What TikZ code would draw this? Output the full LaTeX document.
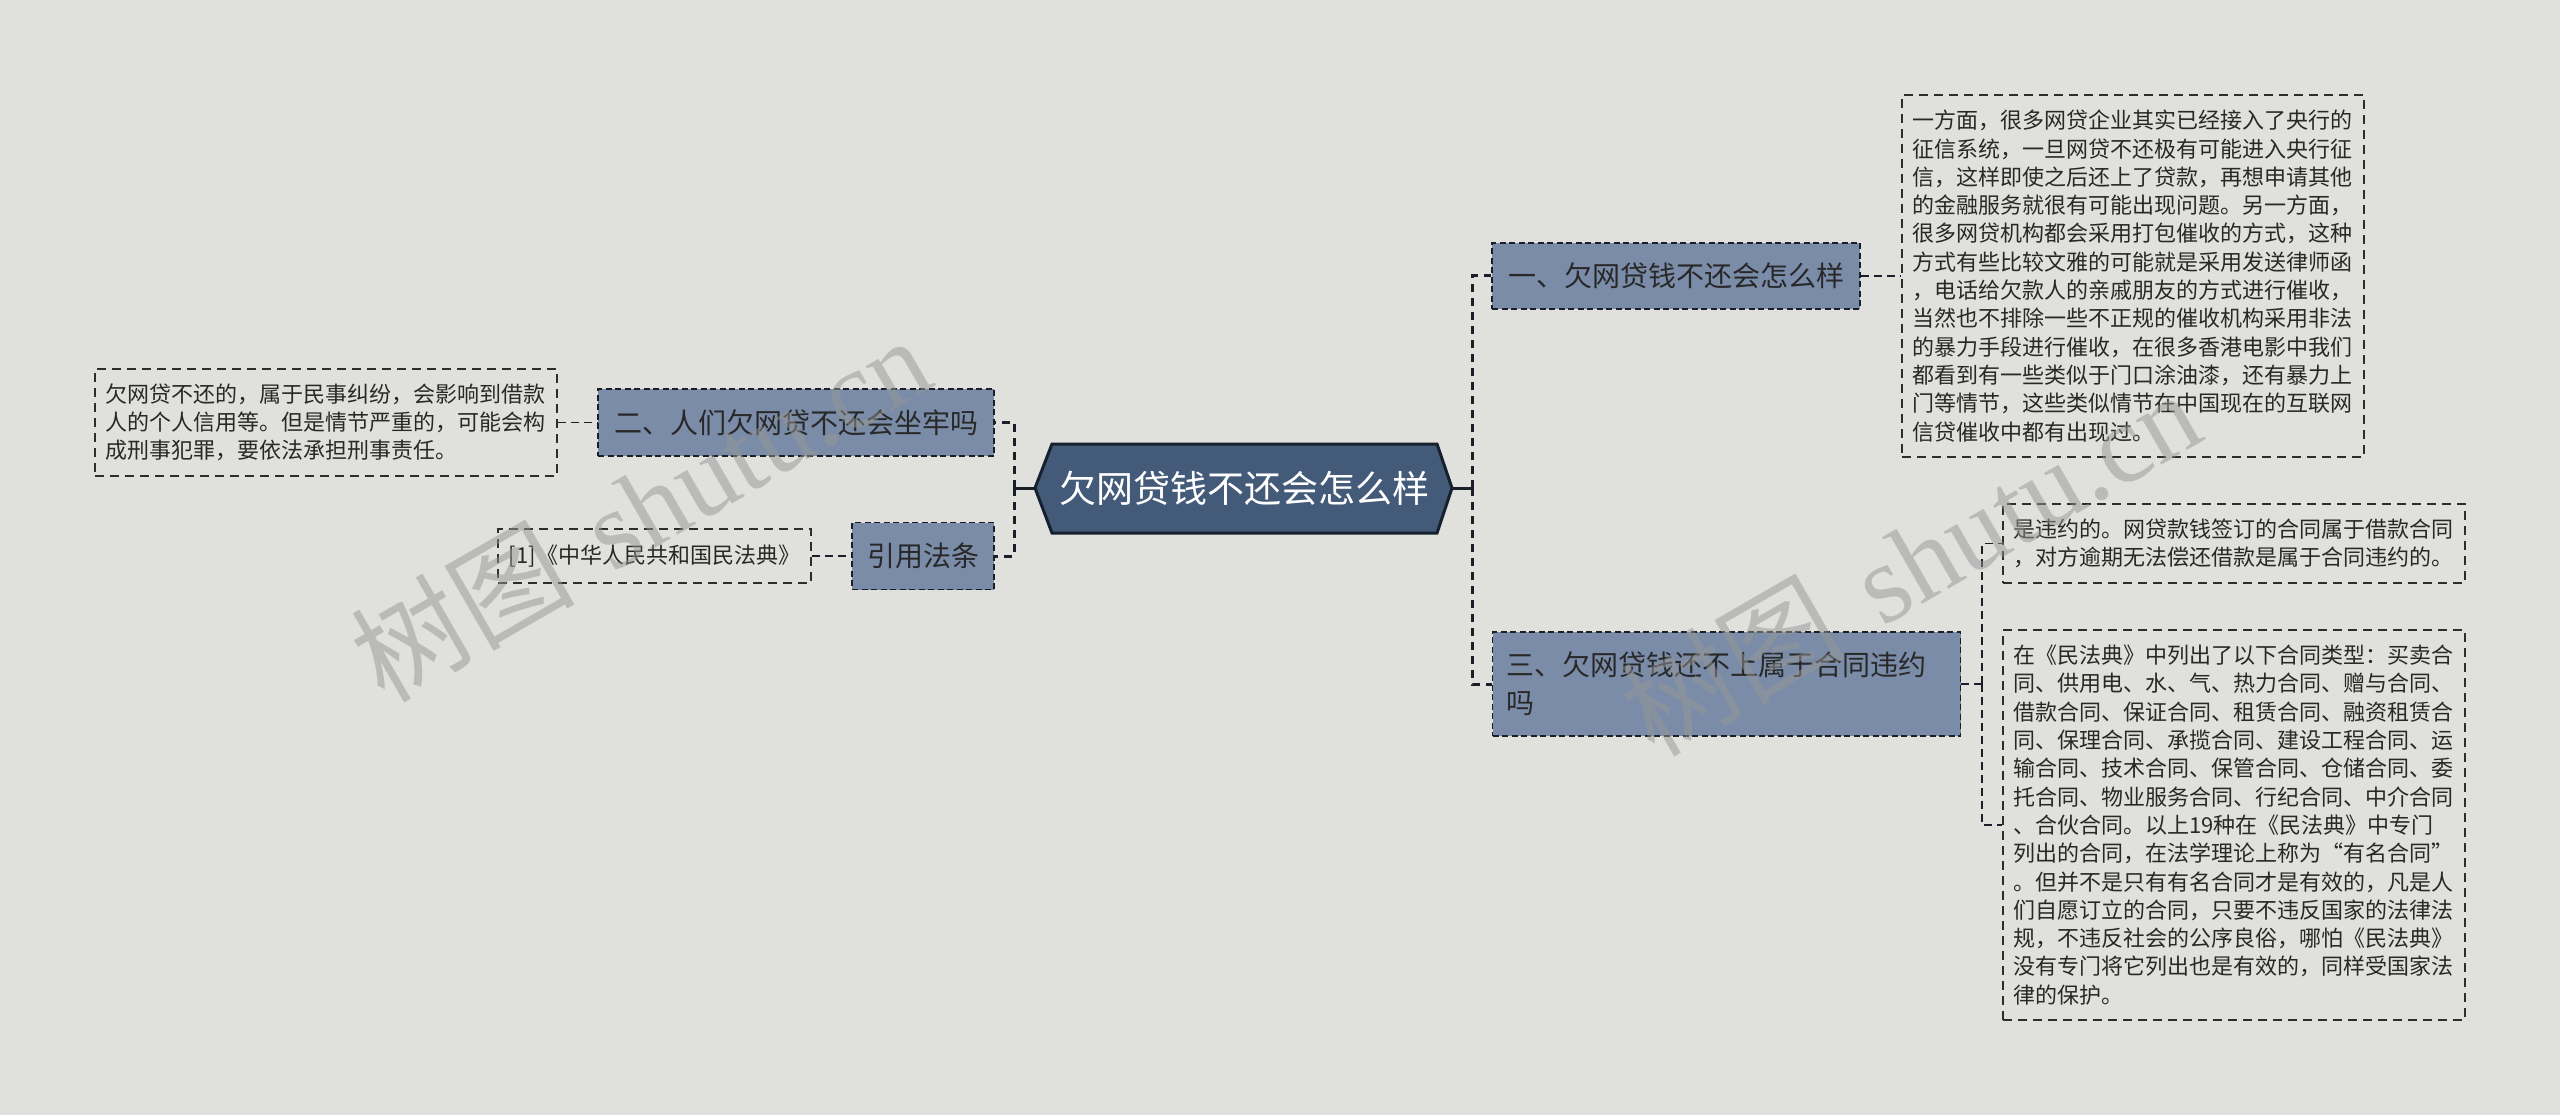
\documentclass[tikz,border=0pt]{standalone}
\usepackage{fontspec}
\setmainfont{Noto Sans CJK SC}
\newfontfamily\wmlatin{Liberation Serif}
\usetikzlibrary{calc}
\definecolor{bgc}{RGB}{224,225,221}
\definecolor{cfill}{RGB}{68,90,121}
\definecolor{cdraw}{RGB}{22,32,46}
\definecolor{lfill}{RGB}{122,140,168}
\definecolor{ldraw}{RGB}{26,30,40}
\definecolor{txt}{RGB}{40,40,40}
\definecolor{ddraw}{RGB}{45,45,45}
\definecolor{wmc}{RGB}{150,150,150}
\tikzset{
  lvlbox/.style={draw=ldraw, line width=1.8pt, dash pattern=on 6pt off 3.5pt, fill=lfill, text=txt,
    font=\fontsize{28}{38}\selectfont, inner xsep=14pt, inner ysep=0pt, align=left},
  detailbox/.style={draw=ddraw, line width=1.6pt, dash pattern=on 9pt off 6pt, text=txt,
    font=\fontsize{22}{28.3}\selectfont, inner xsep=10pt, inner ysep=0pt, align=left},
  centralbox/.style={text=white, font=\fontsize{37}{44}\selectfont, inner sep=0pt},
  hexshape/.style={fill=cfill, draw=cdraw, line width=3pt, line join=miter},
  trunk/.style={draw=ldraw, line width=3pt},
  branch/.style={draw=ldraw, line width=3pt, dash pattern=on 8pt off 6pt},
  leaf/.style={draw=ldraw, line width=1.8pt, dash pattern=on 8pt off 5pt},
  wmark/.style={text=wmc, opacity=0.5, font=\fontsize{112}{112}\selectfont, rotate=30, inner sep=0pt}
}
\begin{document}
\begin{tikzpicture}[x=1pt,y=-1pt]
\fill[bgc] (0,0) rectangle (2560,1115);
\useasboundingbox (0,0) rectangle (2560,1115);

% central node
\draw[hexshape] (1035,488) -- (1052,444) -- (1437,444) -- (1452,488) -- (1437,533) -- (1052,533) -- cycle;
\node[centralbox] (c) at (1244,488) {欠网贷钱不还会怎么样};
\coordinate (cl) at (1035,488);
\coordinate (cr) at (1452,488);

% level 1 nodes
\node[lvlbox, minimum width=368, minimum height=66] (n1) at (1676,276) {一、欠网贷钱不还会怎么样};
\node[lvlbox, text width=440, minimum height=104] (n3) at (1726.5,684) {三、欠网贷钱还不上属于合同违约\\吗};
\node[lvlbox, minimum width=396, minimum height=67] (n2) at (796,422.5) {二、人们欠网贷不还会坐牢吗};
\node[lvlbox, minimum width=142, minimum height=67] (law) at (923,556) {引用法条};

% detail nodes
\node[detailbox, minimum width=313, minimum height=54] (ref) at (654.5,556) {[1]《中华人民共和国民法典》};
\node[detailbox, text width=442, minimum height=107] (d0) at (326,422.5) {欠网贷不还的，属于民事纠纷，会影响到借款\\人的个人信用等。但是情节严重的，可能会构\\成刑事犯罪，要依法承担刑事责任。};
\node[detailbox, text width=442, minimum height=362] (d1) at (2133,276) {一方面，很多网贷企业其实已经接入了央行的\\征信系统，一旦网贷不还极有可能进入央行征\\信，这样即使之后还上了贷款，再想申请其他\\的金融服务就很有可能出现问题。另一方面，\\很多网贷机构都会采用打包催收的方式，这种\\方式有些比较文雅的可能就是采用发送律师函\\，电话给欠款人的亲戚朋友的方式进行催收，\\当然也不排除一些不正规的催收机构采用非法\\的暴力手段进行催收，在很多香港电影中我们\\都看到有一些类似于门口涂油漆，还有暴力上\\门等情节，这些类似情节在中国现在的互联网\\信贷催收中都有出现过。};
\node[detailbox, text width=442, minimum height=79] (d2) at (2234,543.5) {是违约的。网贷款钱签订的合同属于借款合同\\，对方逾期无法偿还借款是属于合同违约的。};
\node[detailbox, text width=442, minimum height=390] (d3) at (2234,825) {在《民法典》中列出了以下合同类型：买卖合\\同、供用电、水、气、热力合同、赠与合同、\\借款合同、保证合同、租赁合同、融资租赁合\\同、保理合同、承揽合同、建设工程合同、运\\输合同、技术合同、保管合同、仓储合同、委\\托合同、物业服务合同、行纪合同、中介合同\\、合伙合同。以上19种在《民法典》中专门\\列出的合同，在法学理论上称为“有名合同”\\。但并不是只有有名合同才是有效的，凡是人\\们自愿订立的合同，只要不违反国家的法律法\\规，不违反社会的公序良俗，哪怕《民法典》\\没有专门将它列出也是有效的，同样受国家法\\律的保护。};

% junctions
\coordinate (lj) at (1014,488);
\coordinate (rj) at (1472,488);
\coordinate (r3j) at (1982,684);

% connectors
\draw[trunk] (cl) -- (lj);
\draw[branch] (lj) |- (n2.east);
\draw[branch] (lj) |- (law.east);
\draw[trunk] (cr) -- (rj);
\draw[branch] (rj) |- (n1.west);
\draw[branch] (rj) |- (n3.west);
\draw[leaf] (d0.east) -- (n2.west);
\draw[leaf] (ref.east) -- (law.west);
\draw[leaf] (n1.east) -- (d1.west);
\draw[leaf] (n3.east) -- (r3j);
\draw[leaf] (r3j) |- (d2.west);
\draw[leaf] (r3j) |- (d3.west);

% watermarks
\node[wmark] (wm1) at (640,508) {树图\hspace{0.35em}{\wmlatin shutu.cn}};
\node[wmark] (wm2) at (1910,562) {树图\hspace{0.35em}{\wmlatin shutu.cn}};
\end{tikzpicture}
\end{document}
